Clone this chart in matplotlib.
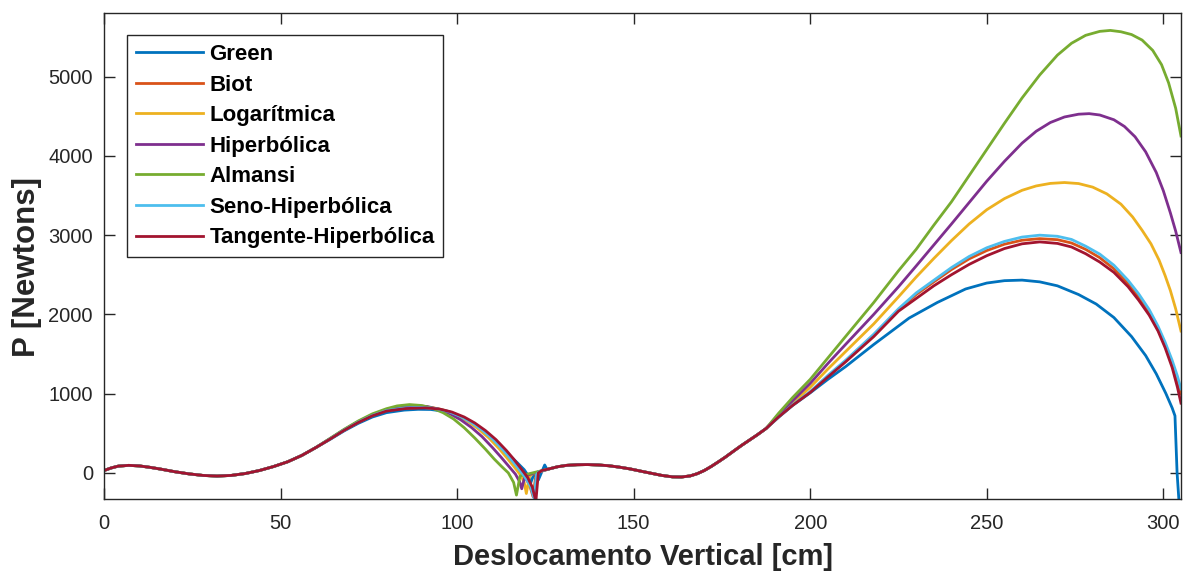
import matplotlib
matplotlib.use("Agg")
import matplotlib.pyplot as plt
from matplotlib import font_manager

# --- fontes ---
nomes = {f.name for f in font_manager.fontManager.ttflist}
fonte = "Liberation Sans" if "Liberation Sans" in nomes else "DejaVu Sans"
plt.rcParams["font.family"] = [fonte, "DejaVu Sans"]

# --- trecho inicial comum a todos os modelos ---
base_x = [0, 2, 4, 7, 10, 13, 16, 20, 24, 28, 32, 36, 40, 44, 48, 52, 56, 60]
base_y = [30, 62, 85, 95, 88, 70, 48, 15, -12, -32, -40, -32, -8, 30, 80, 140, 220, 320]

# --- primeira onda + ponto de inversao de cada modelo ---
green_hx = [64, 68, 72, 76, 80, 85, 89, 92.5, 96, 99.5, 103, 106, 109, 112, 115, 117, 119,
            120.2, 120.8, 121.8, 123, 124.8, 125.5]
green_hy = [422, 530, 625, 705, 760, 792, 802, 800, 780, 735, 660, 575, 465, 335, 215, 130, 40,
            -40, -130, -10, -90, 100, 40]
biot_hx = [64, 68, 72, 76, 80, 85, 90, 94, 97.5, 101, 104, 107, 110, 113, 115, 117, 119,
           120.5, 121.5, 122.3, 123]
biot_hy = [428, 540, 640, 725, 786, 818, 826, 812, 775, 712, 638, 545, 430, 290, 185, 75, -40,
           -150, -300, -30, 10]
log_hx = [64, 68, 72, 76, 80, 84, 89, 93, 96.5, 100, 103, 106, 109, 112, 114, 116, 118, 119,
          119.6, 120.5, 121.5]
log_hy = [430, 542, 644, 730, 792, 826, 837, 825, 788, 725, 650, 555, 440, 300, 195, 85, -30,
          -120, -260, -40, -10]
hip_hx = [64, 68, 72, 76, 80, 84, 88, 91.5, 95, 98, 101, 104, 107, 110, 112.5, 114.5, 116.5,
          117.7, 118.3, 119.2, 120.5]
hip_hy = [432, 545, 648, 735, 798, 834, 847, 838, 800, 745, 670, 575, 460, 320, 195, 90, -15,
          -110, -200, -40, -20]
alm_hx = [64, 68, 72, 76, 80, 83, 86.5, 90, 93, 96, 99, 102, 105, 108, 110.5, 112.5, 114.5,
          116, 116.8, 117.8, 119.5]
alm_hy = [435, 550, 655, 745, 810, 845, 862, 850, 815, 760, 680, 570, 440, 300, 175, 85, 0,
          -120, -280, -40, -20]
seno_hx = [64, 68, 72, 76, 80, 85, 90, 94, 97.5, 101, 104, 107, 110, 113, 115, 117, 119,
           120.7, 121.8, 122.5, 123.2]
seno_hy = [428, 540, 640, 725, 786, 818, 826, 812, 775, 712, 638, 545, 430, 290, 185, 75, -40,
           -160, -320, -20, 15]
tan_hx = [64, 68, 72, 76, 80, 85.5, 91, 95, 98.5, 102, 105, 108, 111, 114, 116, 118, 120,
          121.3, 122.3, 123, 124]
tan_hy = [426, 537, 636, 720, 780, 812, 820, 806, 768, 705, 630, 535, 420, 280, 175, 60, -60,
          -180, -360, 0, 30]

# --- trecho intermediario comum ---
meio_x = [126, 128.5, 131, 134, 137, 140, 143, 146, 149, 152, 155, 158, 161, 163.5, 166, 168,
          170, 172, 174, 176, 178, 180.5, 183, 185, 187.5]
meio_y = [50, 78, 95, 103, 105, 100, 90, 72, 50, 22, -5, -32, -50, -52, -38, -10, 30, 82, 140,
          200, 265, 345, 420, 480, 560]

# --- subida final de cada modelo ---
green_sx = [191, 195, 200, 205, 210, 218, 228, 236, 244, 250, 255, 260, 265, 270, 276, 281,
            286, 291, 295, 298, 300.7, 302.5, 303.3, 303.9, 304.5]
green_sy = [700, 850, 1010, 1180, 1340, 1620, 1953, 2150, 2320, 2395, 2425, 2432, 2410, 2360,
            2250, 2130, 1960, 1720, 1480, 1250, 1004, 820, 720, 0, -400]
biot_sx = [191, 195, 200, 205, 210, 218, 225, 230, 235, 240, 245, 250, 255, 260, 265, 270, 274,
           278, 282, 286, 290, 293, 296, 298.5, 300.5, 302.5, 304, 305]
biot_sy = [705, 855, 1020, 1222, 1410, 1740, 2055, 2250, 2410, 2565, 2700, 2805, 2885, 2935,
           2955, 2942, 2900, 2820, 2715, 2575, 2390, 2220, 2020, 1810, 1610, 1380, 1160, 1000]
log_sx = [191, 195, 200, 205, 210, 218, 225, 230, 235, 240, 245, 250, 255, 260, 264, 268, 272,
          276, 280, 284, 288, 291.3, 294, 296.5, 298.8, 300.5, 302, 303.5, 305]
log_sy = [720, 880, 1080, 1310, 1530, 1880, 2221, 2470, 2705, 2930, 3140, 3320, 3460, 3565,
          3620, 3652, 3663, 3650, 3605, 3520, 3390, 3229, 3060, 2890, 2684, 2490, 2300, 2070, 1790]
hip_sx = [191, 195, 200, 205, 210, 218, 225, 230, 235, 240, 245, 250, 255, 260, 264, 268, 272,
          276, 279, 282, 286, 289, 292, 295, 298, 300, 302, 303.5, 305]
hip_sy = [730, 910, 1130, 1380, 1620, 2000, 2348, 2610, 2875, 3140, 3410, 3680, 3930, 4160,
          4310, 4420, 4490, 4525, 4532, 4515, 4455, 4370, 4240, 4050, 3790, 3560, 3280, 3050, 2780]
alm_sx = [191, 195, 200, 205, 210, 218, 225, 230, 235, 240, 245, 250, 255, 260, 265, 270, 274,
          278, 282, 285, 288, 291, 294, 297, 299.5, 301.5, 303.5, 305]
alm_sy = [750, 950, 1180, 1450, 1720, 2150, 2550, 2820, 3125, 3420, 3750, 4080, 4410, 4730,
          5020, 5270, 5420, 5520, 5570, 5582, 5565, 5530, 5460, 5330, 5150, 4920, 4600, 4250]
seno_sx = biot_sx
seno_sy = [705, 858, 1025, 1230, 1420, 1750, 2070, 2270, 2430, 2590, 2730, 2840, 2920, 2975,
           2999, 2985, 2945, 2860, 2760, 2620, 2430, 2260, 2060, 1850, 1650, 1420, 1220, 1060]
tan_sx = biot_sx
tan_sy = [705, 852, 1015, 1210, 1400, 1720, 2040, 2200, 2360, 2500, 2630, 2740, 2830, 2890,
          2914, 2895, 2850, 2765, 2660, 2530, 2350, 2180, 1990, 1790, 1580, 1330, 1080, 880]

nomes_series = ["Green", "Biot", "Logarítmica", "Hiperbólica", "Almansi",
                "Seno-Hiperbólica", "Tangente-Hiperbólica"]
cores = ["#0072BD", "#D95319", "#EDB120", "#7E2F8E", "#77AC30", "#4DBEEE", "#A2142F"]
ondas = [(green_hx, green_hy), (biot_hx, biot_hy), (log_hx, log_hy), (hip_hx, hip_hy),
         (alm_hx, alm_hy), (seno_hx, seno_hy), (tan_hx, tan_hy)]
subidas = [(green_sx, green_sy), (biot_sx, biot_sy), (log_sx, log_sy), (hip_sx, hip_sy),
           (alm_sx, alm_sy), (seno_sx, seno_sy), (tan_sx, tan_sy)]

fig = plt.figure(figsize=(11.85, 5.71), dpi=100)
ax = fig.add_axes([0.0878, 0.126, 0.9088, 0.851])

for nome, cor, (hx, hy), (sx, sy) in zip(nomes_series, cores, ondas, subidas):
    x = base_x + hx + meio_x + sx
    y = base_y + hy + meio_y + sy
    ax.plot(x, y, color=cor, lw=2.0, label=nome, solid_joinstyle="round")

ax.set_xlim(0, 305)
ax.set_ylim(-330, 5800)
ax.set_xticks([0, 50, 100, 150, 200, 250, 300])
ax.set_yticks([0, 1000, 2000, 3000, 4000, 5000])

cinza = "#262626"
for lado in ax.spines.values():
    lado.set_color(cinza)
    lado.set_linewidth(1.0)
ax.tick_params(direction="in", length=8, width=1.0, color=cinza, labelcolor=cinza,
               top=True, right=True, labelsize=14.5)
ax.tick_params(axis="x", pad=11)
ax.tick_params(axis="y", pad=8)

ax.set_xlabel("Deslocamento Vertical [cm]", fontsize=21, fontweight="bold",
              color=cinza, labelpad=7)
ax.set_ylabel("P [Newtons]", fontsize=22.5, fontweight="bold", color=cinza)
ax.yaxis.set_label_coords(-0.058, 0.478)

leg = ax.legend(loc="upper left", bbox_to_anchor=(0.0214, 0.9547), borderaxespad=0,
                fancybox=False, edgecolor=cinza, framealpha=1,
                prop={"weight": "bold", "size": 16}, handlelength=3.0,
                handletextpad=0.3, labelspacing=0.43, borderpad=0.4)
leg.get_frame().set_linewidth(1.0)

fig.savefig("out.png", dpi=100)
